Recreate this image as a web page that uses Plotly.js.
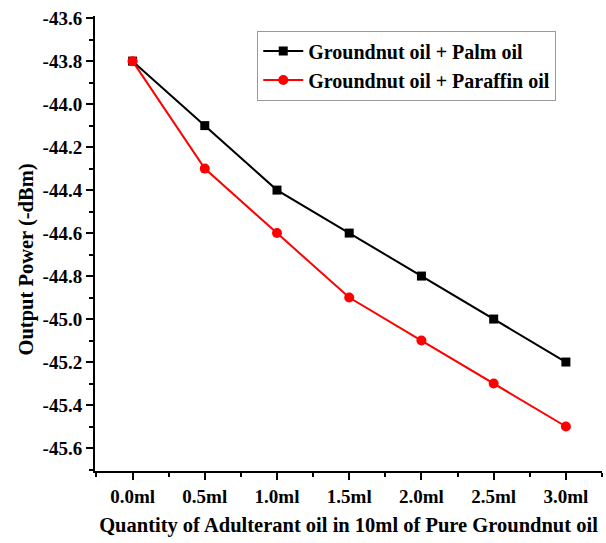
<!DOCTYPE html>
<html><head><meta charset="utf-8">
<script src="https://cdn.plot.ly/plotly-3.0.1.min.js"></script>
<style>html,body{margin:0;padding:0;background:#fff;}#c{width:606px;height:543px;}</style>
</head><body><div id="c"></div>
<script>
const xValues = [0, 0.5, 1.0, 1.5, 2.0, 2.5, 3.0];
const xTickLabels = ["0.0ml","0.5ml","1.0ml","1.5ml","2.0ml","2.5ml","3.0ml"];
const palmOil = [-43.8, -44.1, -44.4, -44.6, -44.8, -45.0, -45.2];
const paraffinOil = [-43.8, -44.3, -44.6, -44.9, -45.1, -45.3, -45.5];
const yTickVals = [-43.6,-43.8,-44.0,-44.2,-44.4,-44.6,-44.8,-45.0,-45.2,-45.4,-45.6];

const fam = "'Liberation Serif', 'Times New Roman', serif";
const font = {family: fam, color: "#000"};
const traces = [
  {x: xValues, y: palmOil, name: "<b>Groundnut oil + Palm oil</b>", mode: "lines+markers",
   line: {color: "#000", width: 2}, marker: {symbol: "square", size: 9, color: "#000"}},
  {x: xValues, y: paraffinOil, name: "<b>Groundnut oil + Paraffin oil</b>", mode: "lines+markers",
   line: {color: "#ff0000", width: 2}, marker: {symbol: "circle", size: 10, color: "#ff0000"}}
];
const axisCommon = {showgrid: false, zeroline: false, showline: true, linecolor: "#000", linewidth: 2,
  ticks: "outside", ticklen: 7, tickwidth: 2, tickcolor: "#000"};
const layout = {
  width: 606, height: 543,
  margin: {l: 95, r: 4, t: 16, b: 72},
  paper_bgcolor: "#fff", plot_bgcolor: "#fff",
  font: font,
  showlegend: true,
  legend: {x: 0.32, y: 0.968, xanchor: "left", yanchor: "top", bordercolor: "#999", borderwidth: 1,
    bgcolor: "#fff", font: {family: fam, size: 20, color: "#000"}, tracegroupgap: 0, itemwidth: 40},
  xaxis: Object.assign({}, axisCommon, {
    range: [-0.26, 3.25], tickvals: xValues, ticktext: xTickLabels.map(t => "<b>" + t + "</b>"),
    tickfont: {family: fam, size: 19, color: "#000"},
    minor: {dtick: 0.25, tick0: 0, ticks: "outside", ticklen: 4, tickwidth: 2, tickcolor: "#000"},
    title: {text: "<b>Quantity of Adulterant oil in 10ml of Pure Groundnut oil</b>", standoff: 12,
      font: {family: fam, size: 20.5, color: "#000"}}
  }),
  yaxis: Object.assign({}, axisCommon, {
    range: [-45.707, -43.59], tickvals: yTickVals, ticktext: yTickVals.map(v => "<b>" + v.toFixed(1) + "</b>"),
    tickfont: {family: fam, size: 19, color: "#000"},
    minor: {dtick: 0.1, tick0: 0, ticks: "outside", ticklen: 4, tickwidth: 2, tickcolor: "#000"}
  }),
  annotations: [{text: "<b>Output Power (-dBm)</b>", textangle: -90, showarrow: false,
    xref: "paper", yref: "paper", x: -95/507, y: 1 - (260 - 16)/455, xanchor: "left", yanchor: "middle",
    xshift: 12, font: {family: fam, size: 20.5, color: "#000"}}]
};
Plotly.newPlot("c", traces, layout, {staticPlot: true, displayModeBar: false});
</script></body></html>
